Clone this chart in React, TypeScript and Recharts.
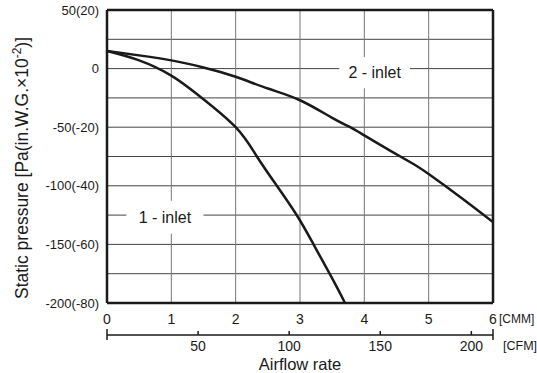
import { LineChart, Line, XAxis, YAxis, CartesianGrid, ReferenceLine, ReferenceArea } from 'recharts';

// airflow in CMM, static pressure in Pa
const cmmTicks = [0, 1, 2, 3, 4, 5, 6];
const cfmTicks = [50, 100, 150, 200];
const CFM_PER_CMM = 35.3147;
const pressureTicks = [-200, -175, -150, -125, -100, -75, -50, -25, 0, 25, 50];

const oneInletFlow = [0, 0.5, 1, 1.45, 2, 2.33, 2.64, 2.96, 3.21, 3.49, 3.7];
const oneInletPressure = [15, 7, -6, -24, -50, -75, -100, -126, -150, -178, -200];

const twoInletFlow = [0, 0.67, 1, 1.5, 2, 2.5, 3, 3.5, 3.78, 4, 4.4, 4.75, 5, 5.5, 6];
const twoInletPressure = [15, 10, 7, 1, -7, -17, -27, -42, -50, -57, -70, -81, -90, -110, -131];

const oneInlet = oneInletFlow.map((f, i) => ({ flow: f, pressure: oneInletPressure[i] }));
const twoInlet = twoInletFlow.map((f, i) => ({ flow: f, cfm: f * CFM_PER_CMM, pressure: twoInletPressure[i] }));

const FONT = '"Liberation Sans", Arial, sans-serif';
const INK = '#1a1a1a';
const CFM_MAX = 6 * CFM_PER_CMM;

const pressureLabel = (v: number) => {
  if (v % 50 !== 0) return '';
  if (v === 0) return '0';
  return `${v}(${v / 2.5})`;
};

const CmmTick = (props: any) => {
  const { x, y, payload } = props;
  return (
    <g>
      <text x={x} y={y} dy="0.71em" textAnchor="middle" fontSize={14} fontFamily={FONT} fill={INK}>
        {payload.value}
      </text>
      {payload.value === 6 && (
        <text x={x + 6} y={y} dy="0.71em" fontSize={12} fontFamily={FONT} fill={INK}>
          [CMM]
        </text>
      )}
    </g>
  );
};

const CfmTick = (props: any) => {
  const { x, y, payload } = props;
  const v = payload.value;
  const isEnd = v === 0 || Math.abs(v - CFM_MAX) < 0.01;
  return (
    <g>
      <line x1={x} x2={x} y1={y - (isEnd ? 6 : 4)} y2={y + (isEnd ? 5 : 0)} stroke={INK} strokeWidth={1.5} />
      {!isEnd && (
        <text x={x} y={y + 6} dy="0.71em" textAnchor="middle" fontSize={14} fontFamily={FONT} fill={INK}>
          {v}
        </text>
      )}
      {isEnd && v !== 0 && (
        <text x={x + 10} y={y + 6} dy="0.71em" fontSize={12.5} fontFamily={FONT} fill={INK}>
          [CFM]
        </text>
      )}
    </g>
  );
};

const AirflowTitle = (props: any) => {
  const { viewBox } = props;
  return (
    <text x={viewBox.x + viewBox.width / 2} y={viewBox.y + 34.5} textAnchor="middle" fontSize={16.5} fontFamily={FONT} fill={INK}>
      Airflow rate
    </text>
  );
};

const PressureTitle = () => (
  <text
    x={28}
    y={168}
    transform="rotate(-90, 28, 168)"
    textAnchor="middle"
    fontSize={17.5}
    fontFamily={FONT}
    fill={INK}
  >
    Static pressure [Pa(in.W.G.×10
    <tspan dy={-7} fontSize={12}>-2</tspan>
    <tspan dy={7}>)]</tspan>
  </text>
);

export default function App() {
  return (
    <div style={{ position: 'absolute', left: 0, top: 0, background: '#fff' }}>
      <LineChart width={537} height={373} margin={{ top: 10, right: 44, bottom: 0, left: 0 }}>
        <CartesianGrid xAxisId={0} vertical={false} stroke="#444" strokeWidth={1} />
        <CartesianGrid xAxisId={0} horizontal={false} stroke="#777" strokeWidth={1} />
        <XAxis
          xAxisId={0}
          dataKey="flow"
          type="number"
          domain={[0, 6]}
          ticks={cmmTicks}
          interval={0}
          height={32}
          axisLine={false}
          tickLine={false}
          tickMargin={5}
          tick={CmmTick}
        />
        <XAxis
          xAxisId={1}
          dataKey="cfm"
          type="number"
          domain={[0, CFM_MAX]}
          allowDataOverflow
          ticks={[0, ...cfmTicks, CFM_MAX]}
          interval={0}
          height={38}
          axisLine={{ stroke: INK, strokeWidth: 1.5 }}
          tickLine={false}
          tickSize={0}
          tickMargin={0}
          tick={CfmTick}
          label={<AirflowTitle />}
        />
        <YAxis
          type="number"
          domain={[-200, 50]}
          ticks={pressureTicks}
          interval={0}
          width={107}
          axisLine={false}
          tickLine={false}
          tickFormatter={pressureLabel}
          tick={{ fontSize: 13, fill: INK, fontFamily: FONT }}
          label={<PressureTitle />}
        />
        <ReferenceArea
          xAxisId={0}
          x1={3.61}
          x2={4.71}
          y1={-16.8}
          y2={9.8}
          fill="#fff"
          fillOpacity={1}
          stroke="none"
          label={{ value: '2 - inlet', position: 'center', fontSize: 16, fill: INK, fontFamily: FONT }}
        />
        <ReferenceArea
          xAxisId={0}
          x1={0.3}
          x2={1.5}
          y1={-140.9}
          y2={-112.7}
          fill="#fff"
          fillOpacity={1}
          stroke="none"
          label={{ value: '1 - inlet', position: 'center', fontSize: 16, fill: INK, fontFamily: FONT }}
        />
        <ReferenceLine xAxisId={0} x={0} stroke={INK} strokeWidth={2.5} />
        <ReferenceLine xAxisId={0} x={6} stroke={INK} strokeWidth={2.5} />
        <ReferenceLine xAxisId={0} y={50} stroke={INK} strokeWidth={2.5} />
        <ReferenceLine xAxisId={0} y={-200} stroke={INK} strokeWidth={2.5} />
        <Line
          xAxisId={0}
          data={oneInlet}
          dataKey="pressure"
          type="natural"
          stroke={INK}
          strokeWidth={2.5}
          dot={false}
          isAnimationActive={false}
        />
        <Line
          xAxisId={0}
          data={twoInlet}
          dataKey="pressure"
          type="natural"
          stroke={INK}
          strokeWidth={2.5}
          dot={false}
          isAnimationActive={false}
        />
        {/* same curve in CFM, invisible, so the CFM axis gets a scale */}
        <Line
          xAxisId={1}
          data={twoInlet}
          dataKey="pressure"
          stroke="transparent"
          dot={false}
          activeDot={false}
          legendType="none"
          isAnimationActive={false}
        />
      </LineChart>
    </div>
  );
}
